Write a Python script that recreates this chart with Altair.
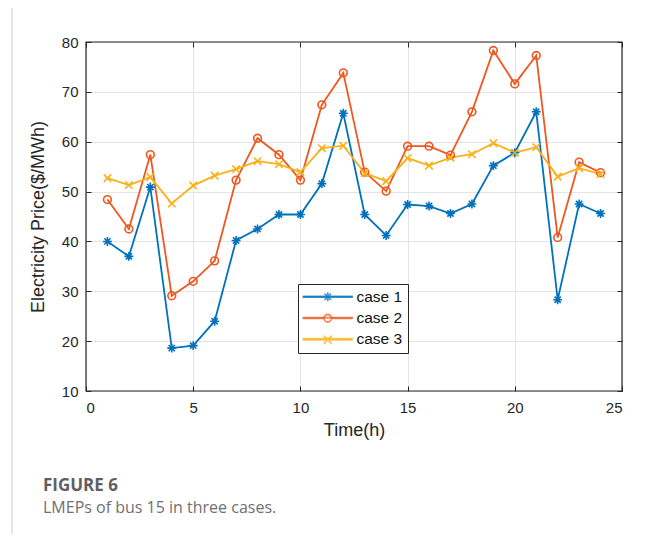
import altair as alt
import pandas as pd

hours = list(range(1, 25))
series_names = ["case 1", "case 2", "case 3"]
case1 = [40.0, 37.0, 50.9, 18.6, 19.1, 24.0, 40.2, 42.5, 45.4, 45.4, 51.6, 65.7,
         45.4, 41.2, 47.4, 47.1, 45.6, 47.5, 55.2, 57.8, 66.0, 28.3, 47.5, 45.6]
case2 = [48.4, 42.5, 57.4, 29.1, 32.0, 36.1, 52.3, 60.7, 57.4, 52.3, 67.4, 73.8,
         53.9, 50.1, 59.1, 59.1, 57.3, 66.0, 78.3, 71.6, 77.3, 40.8, 55.9, 53.8]
case3 = [52.7, 51.3, 52.9, 47.6, 51.2, 53.2, 54.5, 56.1, 55.5, 53.9, 58.7, 59.2,
         53.7, 52.1, 56.7, 55.2, 56.8, 57.5, 59.7, 57.8, 58.9, 53.0, 54.7, 53.5]
x_ticks = [0, 5, 10, 15, 20, 25]
y_ticks = [10, 20, 30, 40, 50, 60, 70, 80]

colors = ["#0072BD", "#F0561D", "#F9B11A"]

rows = []
for name, vals in zip(series_names, [case1, case2, case3]):
    for h, v in zip(hours, vals):
        rows.append({"hour": h, "series": name, "value": v})
df = pd.DataFrame(rows)

FONT = "Liberation Sans"
AX = "#262626"

xs = alt.Scale(domain=[0, 25], nice=False)
ys = alt.Scale(domain=[10, 80], nice=False)
cs = alt.Scale(domain=series_names, range=colors)

base = alt.Chart(df)

lines = base.mark_line(strokeWidth=1.8).encode(
    x=alt.X("hour:Q", scale=xs, axis=alt.Axis(
        orient="bottom", offset=-5, values=x_ticks, tickSize=5, tickColor=AX,
        domain=False, grid=True, gridColor="#e4e4e4", labelPadding=9,
        labelFont=FONT, labelFontSize=15, labelColor=AX, title="Time(h)",
        titleFont=FONT, titleFontSize=18, titleFontWeight="normal", titleColor=AX,
        titlePadding=6)),
    y=alt.Y("value:Q", scale=ys, axis=alt.Axis(
        orient="left", offset=-5, values=y_ticks, tickSize=5, tickColor=AX,
        domain=False, grid=True, gridColor="#e4e4e4", labelPadding=8,
        labelFont=FONT, labelFontSize=15, labelColor=AX,
        title="Electricity Price($/MWh)", titleFont=FONT, titleFontSize=18,
        titleFontWeight="normal", titleColor=AX, titlePadding=14)),
    color=alt.Color("series:N", scale=cs, legend=None),
    detail="series:N",
)

star = "M-1,0H1M0,-1V1M-0.7,-0.7L0.7,0.7M-0.7,0.7L0.7,-0.7"
xmark = "M-1,-1L1,1M-1,1L1,-1"
marker_shapes = [star, "circle", xmark]
marker_sizes = [80, 60, 55]

point_layers = []
for i, (name, shp, sz) in enumerate(zip(series_names, marker_shapes, marker_sizes)):
    if i == 0:
        xenc = alt.X("hour:Q", scale=xs, axis=alt.Axis(
            orient="top", offset=-5, values=x_ticks, tickSize=5, tickColor=AX,
            domain=False, grid=False, labels=False, title=None))
        yenc = alt.Y("value:Q", scale=ys, axis=alt.Axis(
            orient="right", offset=-5, values=y_ticks, tickSize=5, tickColor=AX,
            domain=False, grid=False, labels=False, title=None))
    else:
        xenc = alt.X("hour:Q", scale=xs, axis=None)
        yenc = alt.Y("value:Q", scale=ys, axis=None)
    p = base.transform_filter(alt.datum.series == name).mark_point(
        shape=shp, filled=False, size=sz, strokeWidth=1.6, opacity=1
    ).encode(
        x=xenc, y=yenc,
        color=alt.Color("series:N", scale=cs, legend=None),
    )
    point_layers.append(p)

# legend symbols (line + marker), in symbol units (scale 5 px per unit)
leg_line = "M-1.6,0H8.4"
leg_star = "M-1.6,0H8.4M3.4,-0.9V0.9M2.76,-0.64L4.04,0.64M2.76,0.64L4.04,-0.64"
leg_circ = "M-1.6,0H2.65M4.15,0H8.4M4.15,0A0.75,0.75 0 1,1 2.65,0A0.75,0.75 0 1,1 4.15,0"
leg_x = "M-1.6,0H8.4M2.6,-0.8L4.2,0.8M2.6,0.8L4.2,-0.8"
legend_paths = [leg_star, leg_circ, leg_x]

LEG_X, LEG_Y, ROW = 212, 242, 21.5

main_leg = alt.Legend(
    title=None, orient="none", legendX=LEG_X, legendY=LEG_Y,
    padding=5, strokeColor="#262626", fillColor="white", cornerRadius=0,
    symbolType=leg_line, symbolSize=100, symbolStrokeWidth=1.8, labelOffset=38,
    labelFont=FONT, labelFontSize=15.5, labelColor="#111111",
    rowPadding=4,
)

main_dummy = base.mark_point(filled=False, size=0.01).encode(
    x=alt.X("hour:Q", scale=xs, axis=None),
    y=alt.Y("value:Q", scale=ys, axis=None),
    stroke=alt.Stroke("series:N", scale=alt.Scale(domain=series_names, range=colors),
                      legend=main_leg),
)

marker_dummies = []
for i, (name, col, pth) in enumerate(zip(series_names, colors, legend_paths)):
    mleg = alt.Legend(
        title=None, orient="none", legendX=LEG_X, legendY=LEG_Y + ROW * i,
        padding=5, symbolType=pth, symbolSize=100, symbolStrokeWidth=1.8,
        labelOffset=38, labelFont=FONT, labelFontSize=15.5, labelOpacity=0,
        rowPadding=4,
    )
    md = base.transform_filter(alt.datum.series == name).mark_point(
        filled=False, size=0.01
    ).encode(
        x=alt.X("hour:Q", scale=xs, axis=None),
        y=alt.Y("value:Q", scale=ys, axis=None),
        stroke=alt.Stroke("series:N", scale=alt.Scale(domain=[name], range=[col]),
                          legend=mleg),
    )
    marker_dummies.append(md)

box = alt.Chart(alt.Data(values=[{"a": 1}])).mark_rect(
    filled=False, stroke=AX, strokeWidth=1.2
).encode(
    x=alt.X(datum=0, scale=xs, axis=None), x2=alt.datum(25),
    y=alt.Y(datum=10, scale=ys, axis=None), y2=alt.datum(80),
)

frame = alt.Chart(alt.Data(values=[{"a": 1}])).mark_rule(
    stroke="#d4d4d4", strokeWidth=1.2
).encode(
    x=alt.value(-74), y=alt.value(-40), y2=alt.value(492)
)

chart = alt.layer(frame, lines, *point_layers, box, main_dummy, *marker_dummies).resolve_axis(
    x="independent", y="independent"
).resolve_scale(stroke="independent").resolve_legend(stroke="independent").properties(
    width=536, height=349, autosize="none",
    padding={"left": 78, "top": 34, "right": 26, "bottom": 143},
    title=alt.TitleParams(
        text="FIGURE 6", subtitle="LMEPs of bus 15 in three cases.",
        orient="bottom", anchor="start", frame="group", dx=-43, offset=-57,
        font="Open Sans", fontSize=17, fontWeight="bold", color="#5f5f5f",
        subtitleFont="Open Sans", subtitleFontSize=16, subtitleColor="#707070",
        subtitlePadding=5,
    ),
).configure(background="white")

chart.save("out.html", embed_options={"renderer": "svg", "actions": False})
